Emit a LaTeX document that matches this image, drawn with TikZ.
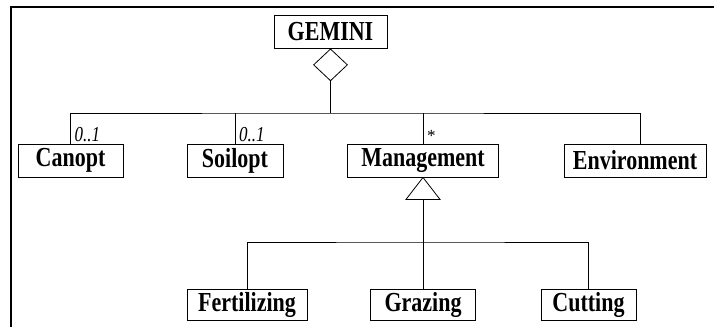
\documentclass[tikz,border=0pt]{standalone}
\usepackage{fontspec}
\usepackage{graphicx}
\setmainfont{Liberation Serif}
\usetikzlibrary{shapes.geometric}
% narrow, tall lettering used in the class boxes
\newcommand\tallglyphs[1]{\scalebox{1}[1.25]{#1}}
\begin{document}
\begin{tikzpicture}[x=1pt,y=-1pt,
  cls/.style={draw,line width=0.9pt,inner sep=0pt,minimum height=33pt,
    font=\fontsize{22}{24}\selectfont\bfseries},
  mult/.style={inner sep=0pt,font=\fontsize{17}{18}\selectfont\itshape},
  link/.style={line width=0.8pt}]
\useasboundingbox (0,0) rectangle (715,327);
% outer frame
\draw[line width=1.3pt] (11,327) -- (11,7) -- (714,7);

% classes
\node[cls,minimum width=113pt] (gem)  at (330.5,31.5) {\tallglyphs{GEMINI}};
\node[cls,minimum width=105pt] (can)  at (70.5,160.5) {\tallglyphs{Canopt}};
\node[cls,minimum width=96pt]  (soil) at (235,160.5)  {\tallglyphs{Soilopt}};
\node[cls,minimum width=151pt] (man)  at (423,160.5)  {\tallglyphs{Management}};
\node[cls,minimum width=142pt] (env)  at (635,160.5)  {\tallglyphs{Environment}};
\node[cls,minimum width=120pt,minimum height=31pt] (fert) at (247,304.5)   {\tallglyphs{Fertilizing}};
\node[cls,minimum width=105pt,minimum height=31pt] (graz) at (423,304.5)   {\tallglyphs{Grazing}};
\node[cls,minimum width=95pt,minimum height=31pt]  (cut)  at (588.5,304.5) {\tallglyphs{Cutting}};

% aggregation diamond under GEMINI
\node[draw,link,diamond,inner sep=0pt,minimum width=34pt,minimum height=32pt,
  anchor=north] (dia) at (gem.south) {};

% aggregation bus
\coordinate (bus) at (dia.south |- 0,113);
\coordinate (envtop) at ([xshift=5pt]env.north);
\draw[link] (dia.south) -- (bus);
\draw[link] (can.north) |- (bus) -| (envtop);
\draw[link] (soil.north) -- (soil.north |- bus);
\draw[link] (man.north) -- (man.north |- bus);

% multiplicities
\node[mult,anchor=base west] (m1) at ([xshift=4pt,yshift=2pt]can.north) {\tallglyphs{0..1}};
\node[mult,anchor=base west] (m2) at ([xshift=4pt,yshift=2pt]soil.north) {\tallglyphs{0..1}};
\node[inner sep=0pt,anchor=base west,font=\fontsize{17}{17}\selectfont] (m3)
  at ([xshift=4pt,yshift=2pt]man.north) {*};

% generalisation triangle under Management
\draw[link] (man.south) -- ++(-17,22) coordinate (tl) -- ++(34,0) coordinate (tr) -- cycle;
\path (man.south) ++(0,22) coordinate (tb);
\coordinate (bus2) at (tb |- 0,242);
\draw[link] (tb) -- (graz.north);
\draw[link] (fert.north) |- (bus2) -| (cut.north);
\end{tikzpicture}
\end{document}
